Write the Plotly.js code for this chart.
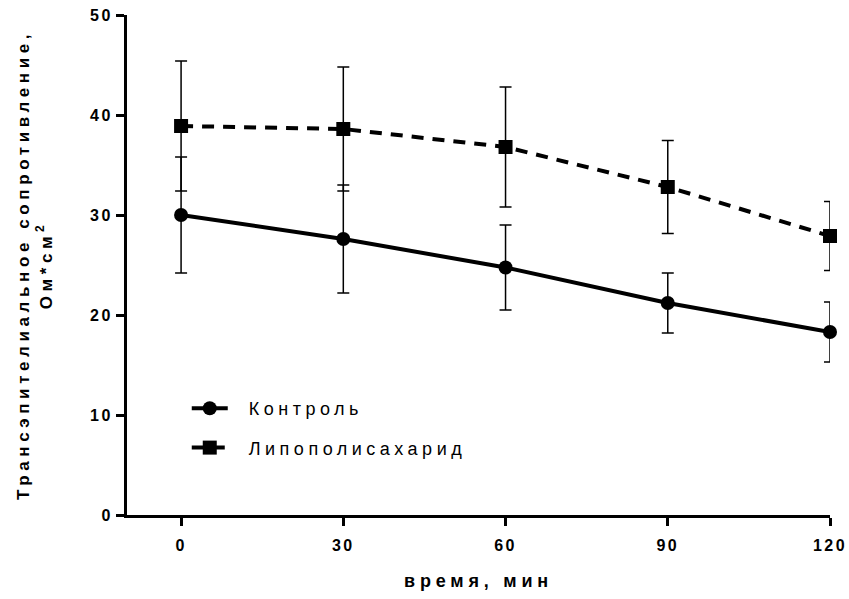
<!DOCTYPE html>
<html>
<head>
<meta charset="utf-8">
<script src="https://cdn.plot.ly/plotly-3.0.1.min.js"></script>
<style>
html,body{margin:0;padding:0;background:#fff;}
#chart{width:849px;height:599px;}
.xtick text,.ytick text{letter-spacing:2.5px;}
.legendtext{letter-spacing:4.5px;transform:translateX(16px);}
.legend .scrollbox{clip-path:none !important;}
.g-xtitle text{letter-spacing:4.8px;}
.g-ytitle text{letter-spacing:4.6px;}
</style>
</head>
<body>
<div id="chart"></div>
<script>
const timeMin = [0, 30, 60, 90, 120];
const controlMean = [30.0, 27.6, 24.75, 21.2, 18.3];
const controlSD = [5.8, 5.4, 4.25, 3.0, 3.0];
const lpsMean = [38.9, 38.6, 36.8, 32.8, 27.9];
const lpsSD = [6.5, 6.2, 6.0, 4.65, 3.45];
const seriesNames = ['Контроль', 'Липополисахарид'];
const xTicks = [0, 30, 60, 90, 120];
const yTicks = [0, 10, 20, 30, 40, 50];

const traces = [
  {
    x: timeMin, y: controlMean, name: seriesNames[0], type: 'scatter', mode: 'lines+markers',
    legendgroup: 'a', cliponaxis: false,
    line: {color: '#000', width: 4},
    marker: {symbol: 'circle', size: 14, color: '#000'},
    error_y: {type: 'data', array: controlSD, visible: true, color: '#000', thickness: 1.5, width: 6}
  },
  {
    x: timeMin, y: lpsMean, name: seriesNames[1], type: 'scatter', mode: 'lines+markers',
    legendgroup: 'b', cliponaxis: false,
    line: {color: '#000', width: 4, dash: '12px,9px'},
    marker: {symbol: 'square', size: 14, color: '#000'},
    error_y: {type: 'data', array: lpsSD, visible: true, color: '#000', thickness: 1.5, width: 6}
  }
];

const FONT = 'Liberation Sans, Arial, sans-serif';
const tickFont = {family: FONT, size: 16, color: '#000', weight: 'bold'};
const layout = {
  width: 849, height: 599,
  margin: {l: 127, r: 19, t: 15, b: 84},
  paper_bgcolor: '#fff', plot_bgcolor: '#fff',
  showlegend: true,
  legend: {
    x: 0.085, y: 0.25, xanchor: 'left', yanchor: 'top',
    font: {family: FONT, size: 18, color: '#000'},
    bgcolor: 'rgba(0,0,0,0)', tracegroupgap: 13, traceorder: 'grouped',
    itemwidth: 36
  },
  xaxis: {
    range: [-10, 120], tickvals: xTicks, ticktext: xTicks.map(String),
    showgrid: false, zeroline: false, showline: true, linecolor: '#000', linewidth: 3,
    ticks: 'outside', ticklen: 8, tickwidth: 3, tickcolor: '#000',
    tickfont: tickFont, ticklabelstandoff: 6,
    title: {text: 'время, мин', font: {family: FONT, size: 18, color: '#000', weight: 'bold'}, standoff: 22}
  },
  yaxis: {
    range: [0, 50], tickvals: yTicks, ticktext: yTicks.map(String),
    showgrid: false, zeroline: false, showline: true, linecolor: '#000', linewidth: 3,
    ticks: 'outside', ticklen: 8, tickwidth: 3, tickcolor: '#000',
    tickfont: tickFont,
    title: {text: 'Трансэпителиальное сопротивление,<br>Ом*см<sup>2</sup>', font: {family: FONT, size: 17, color: '#000', weight: 'bold'}, standoff: 34}
  }
};

Plotly.newPlot('chart', traces, layout, {displayModeBar: false, staticPlot: true});
</script>
</body>
</html>
